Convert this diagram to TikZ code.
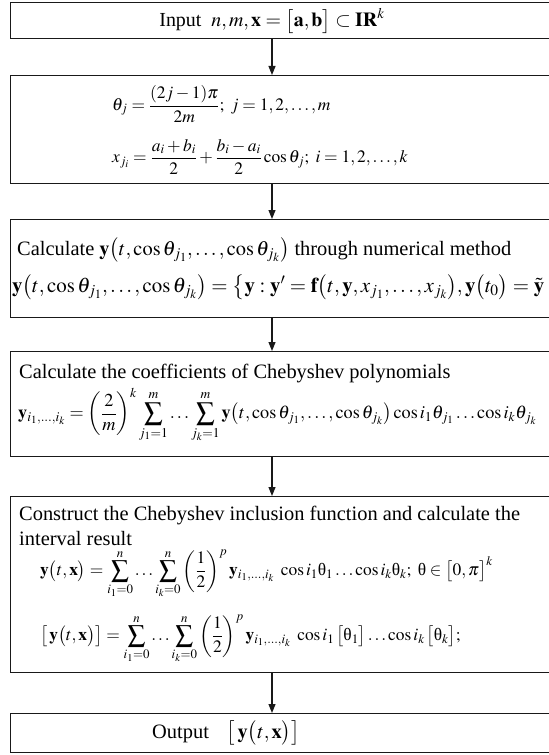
\documentclass[tikz,border=0pt]{standalone}
\usepackage{amsmath}
\usepackage{mathptmx}
\usepackage[no-math]{fontspec}
\setmainfont{Liberation Serif}
\usetikzlibrary{arrows.meta}
\newcommand{\uth}{\text{θ}}
\tikzset{
  box/.style={draw=black!90, line width=1.1bp, inner sep=0, minimum width=541bp, anchor=north west},
  txt/.style={inner sep=0, anchor=west, font=\fontsize{20.5}{24}\selectfont},
  mth/.style={inner sep=0, anchor=west, font=\fontsize{17.5}{21}\selectfont},
  arr/.style={-{Triangle[length=9bp,width=7bp]}, line width=1.1bp, draw=black!90, fill=black!90},
}
\begin{document}
\begin{tikzpicture}[x=1bp,y=-1bp]
\useasboundingbox (0,0) rectangle (549,755);
\fill[white] (0,0) rectangle (549,755);
% boxes
\node[box, minimum height=36bp] (b1) at (10,2) {};
\node[box, minimum height=108bp] (b2) at (10,75) {};
\node[box, minimum height=98bp] (b3) at (10,219) {};
\node[box, minimum height=105bp] (b4) at (10,351) {};
\node[box, minimum height=176bp] (b5) at (10,496) {};
\node[box, minimum height=39bp] (b6) at (10,713) {};
\coordinate (ax) at (272,0);
% arrows
\draw[arr] (b1.south -| ax) -- (b2.north -| ax);
\draw[arr] (b2.south -| ax) -- (b3.north -| ax);
\draw[arr] (b3.south -| ax) -- (b4.north -| ax);
\draw[arr] (b4.south -| ax) -- (b5.north -| ax);
\draw[arr] (b5.south -| ax) -- (b6.north -| ax);
% texts
\node[txt, anchor=center, font=\fontsize{20}{24}\selectfont] (t1) at (272,21) {Input\ \ $n, m, \mathbf{x} = \big[\mathbf{a},\mathbf{b}\big]\subset\mathbf{IR}^{k}$};
\node[mth] (t2a) at (112,104) {$\theta_j = \dfrac{(2j-1)\pi}{2m};\ j=1,2,\ldots,m$};
\node[mth] (t2b) at (112,157) {$x_{j_i} = \dfrac{a_i+b_i}{2}+\dfrac{b_i-a_i}{2}\cos\theta_j;\ i=1,2,\ldots,k$};
\node[txt] (t3a) at (17,250) {Calculate $\mathbf{y}\big(t,\cos\theta_{j_1},\ldots,\cos\theta_{j_k}\big)$ through numerical method};
\node[txt, font=\fontsize{21}{25}\selectfont] (t3b) at (12,287) {$\mathbf{y}\big(t,\cos\theta_{j_1},\ldots,\cos\theta_{j_k}\big)=\big\{\mathbf{y}:\mathbf{y}'=\mathbf{f}\big(t,\mathbf{y},x_{j_1},\ldots,x_{j_k}\big),\mathbf{y}\big(t_0\big)=\tilde{\mathbf{y}}$};
\node[txt] (t4a) at (19,374) {Calculate the coefficients of Chebyshev polynomials};
\node[mth, font=\fontsize{18.3}{22}\selectfont] (t4b) at (18,415) {$\displaystyle\mathbf{y}_{i_1,\ldots,i_k}=\left(\frac{2}{m}\right)^{k}\sum_{j_1=1}^{m}\ldots\sum_{j_k=1}^{m}\mathbf{y}\big(t,\cos\theta_{j_1},\ldots,\cos\theta_{j_k}\big)\cos i_1\theta_{j_1}\ldots\cos i_k\theta_{j_k}$};
\node[txt] (t5a) at (19,516) {Construct the Chebyshev inclusion function and calculate the};
\node[txt] (t5b) at (19,539) {interval result};
\node[mth] (t5c) at (40,574) {$\displaystyle\mathbf{y}\big(t,\mathbf{x}\big)=\sum_{i_1=0}^{n}\ldots\sum_{i_k=0}^{n}\left(\frac{1}{2}\right)^{p}\mathbf{y}_{i_1,\ldots,i_k}\ \cos i_1\uth_1\ldots\cos i_k\uth_k;\ \uth\in\big[0,\pi\big]^{k}$};
\node[mth] (t5d) at (40,639) {$\displaystyle\big[\,\mathbf{y}\big(t,\mathbf{x}\big)\big]=\sum_{i_1=0}^{n}\ldots\sum_{i_k=0}^{n}\left(\frac{1}{2}\right)^{p}\mathbf{y}_{i_1,\ldots,i_k}\ \cos i_1\,\big[\uth_1\big]\ldots\cos i_k\,\big[\uth_k\big];$};
\node[txt] (t6) at (152,733) {Output\hspace{18bp}$\big[\,\mathbf{y}\big(t,\mathbf{x}\big)\big]$};
\end{tikzpicture}
\end{document}
